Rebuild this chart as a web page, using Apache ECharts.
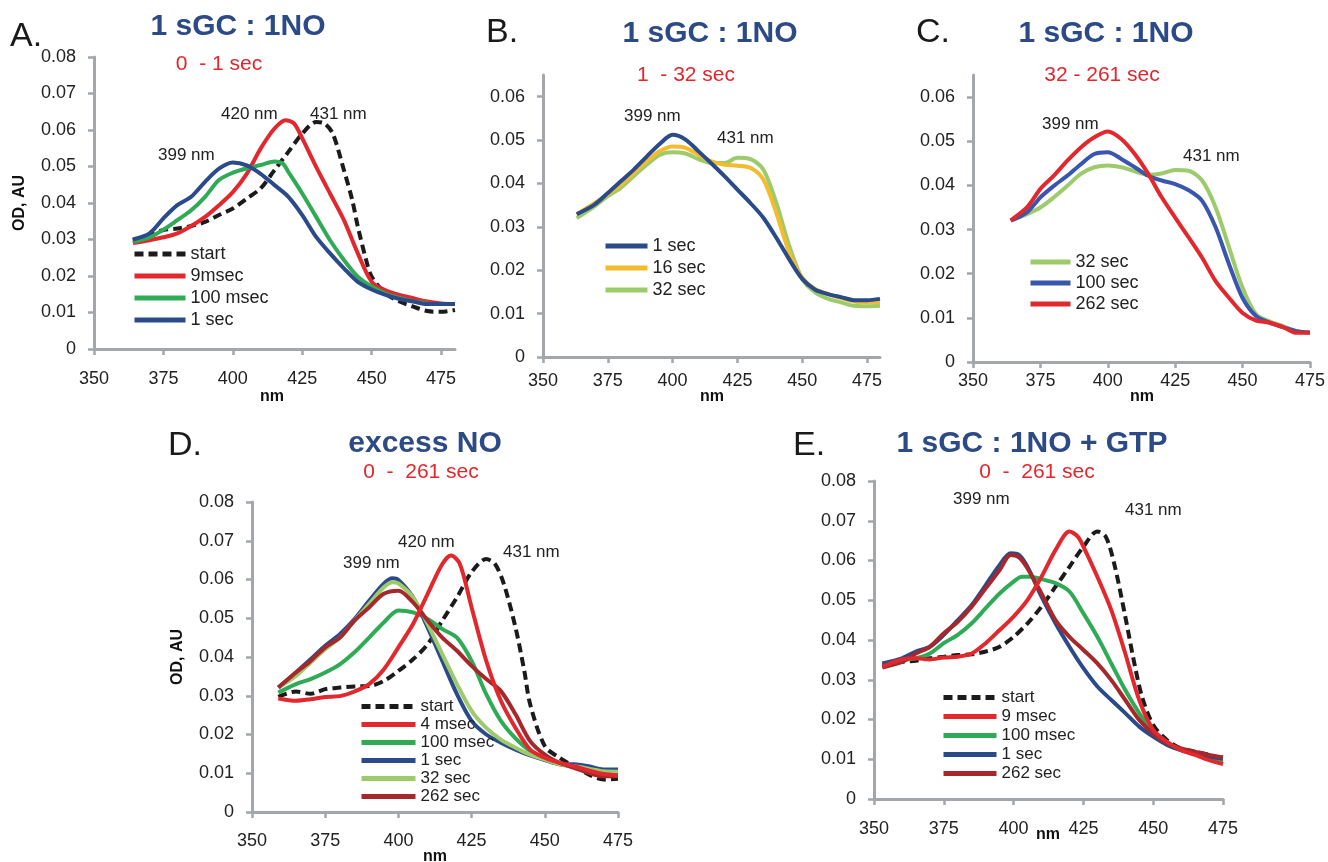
<!DOCTYPE html>
<html><head><meta charset="utf-8">
<script src="https://cdn.jsdelivr.net/npm/echarts@6/dist/echarts.min.js"></script>
<style>html,body{margin:0;padding:0;background:#fff}#c{width:1328px;height:862px}</style>
</head><body><div id="c"></div>
<script>
// ---------- tick labels ----------
const xTicks = [350, 375, 400, 425, 450, 475];
const yTicks8 = [0, 0.01, 0.02, 0.03, 0.04, 0.05, 0.06, 0.07, 0.08];
const yTicks6 = [0, 0.01, 0.02, 0.03, 0.04, 0.05, 0.06];

// ---------- Panel A : 1 sGC : 1NO, 0 - 1 sec ----------
const A_start_nm = [364,370,375,380,385,390,395,400,405,410,415,420,425,430,433,436,440,443,445,448,450,455,460,465,470,475,480];
const A_start_od = [0.0298,0.0312,0.0326,0.033,0.0337,0.0348,0.0367,0.0385,0.0412,0.044,0.049,0.054,0.059,0.0622,0.0618,0.059,0.049,0.0408,0.0335,0.0244,0.0198,0.0152,0.013,0.0116,0.0104,0.0102,0.0107];
const A_9ms_nm = [364,370,375,380,385,390,395,400,405,410,415,419,422,425,430,435,440,445,450,455,460,465,470,475,480];
const A_9ms_od = [0.029,0.0298,0.0306,0.0317,0.0337,0.0362,0.0394,0.043,0.048,0.0549,0.0604,0.0627,0.0618,0.0577,0.0499,0.0426,0.0353,0.0262,0.0184,0.0161,0.0148,0.0139,0.013,0.0125,0.0123];
const A_100ms_nm = [364,370,375,380,385,390,395,400,405,410,415,418,420,425,430,435,440,445,450,455,460,465,470,475,480];
const A_100ms_od = [0.0294,0.0306,0.0327,0.0353,0.038,0.0417,0.0463,0.0483,0.0495,0.0504,0.0514,0.0508,0.0485,0.0426,0.0362,0.0298,0.0244,0.0198,0.0171,0.0152,0.014,0.0131,0.0125,0.0123,0.0123];
const A_1s_nm = [364,370,375,380,385,390,395,400,405,410,415,420,425,430,435,440,445,450,455,460,465,470,475,480];
const A_1s_od = [0.030,0.0317,0.0358,0.0394,0.0417,0.0458,0.0494,0.0511,0.0503,0.048,0.0449,0.0417,0.0367,0.0307,0.0262,0.0221,0.0184,0.0163,0.0148,0.0137,0.013,0.0123,0.0123,0.0123];

// ---------- Panel B : 1 - 32 sec ----------
const B_nm = [363,370,375,380,385,390,395,400,405,410,415,420,425,430,435,440,445,450,455,460,465,470,475,480];
const B_1s_od  = [0.0329,0.0352,0.0378,0.0405,0.0432,0.0462,0.0491,0.0512,0.0501,0.0474,0.0446,0.0417,0.0386,0.0355,0.0321,0.0275,0.0225,0.018,0.0155,0.0145,0.0138,0.0131,0.0131,0.0134];
const B_16s_od = [0.0329,0.0355,0.0375,0.0397,0.0424,0.0451,0.0474,0.0485,0.0482,0.0466,0.0451,0.0443,0.0441,0.0436,0.0409,0.0332,0.0241,0.0183,0.0157,0.0145,0.0136,0.0128,0.0126,0.0126];
const B_32s_od = [0.032,0.0348,0.0371,0.039,0.0417,0.0443,0.0466,0.0472,0.0469,0.0456,0.0447,0.0447,0.0459,0.0456,0.0432,0.0355,0.0256,0.018,0.0149,0.0134,0.0126,0.0118,0.0117,0.0118];

// ---------- Panel C : 32 - 261 sec ----------
const C_nm = [364,370,375,380,385,390,395,400,405,410,415,420,425,430,435,440,445,450,455,460,465,470,475];
const C_32s_od  = [0.0321,0.0335,0.035,0.0373,0.0399,0.0426,0.0441,0.0445,0.0441,0.0432,0.0424,0.0427,0.0435,0.0433,0.0411,0.035,0.0259,0.0168,0.0108,0.0092,0.0081,0.007,0.0066];
const C_100s_od = [0.032,0.0339,0.0373,0.0399,0.0422,0.0448,0.0471,0.0475,0.046,0.0441,0.0422,0.0411,0.0403,0.0389,0.0365,0.0305,0.0221,0.0145,0.0104,0.0089,0.0079,0.007,0.0067];
const C_262s_od = [0.0321,0.035,0.0392,0.0422,0.0456,0.0486,0.0509,0.0522,0.0505,0.0471,0.0426,0.0373,0.0327,0.0282,0.0236,0.0183,0.0145,0.0111,0.0094,0.0089,0.0079,0.0066,0.0066];

// ---------- Panel D : excess NO, 0 - 261 sec ----------
const D_start_nm = [359,365,370,375,380,385,390,395,400,405,410,415,420,425,430,433,436,440,443,445,450,455,460,465,470,475];
const D_start_od = [0.0297,0.0311,0.0305,0.0317,0.0321,0.0324,0.0325,0.0338,0.0364,0.0394,0.0433,0.0494,0.0554,0.0619,0.0653,0.064,0.0589,0.0476,0.0364,0.0278,0.017,0.014,0.0118,0.0097,0.0084,0.0086];
const D_4ms_nm = [359,365,370,375,380,385,390,395,400,405,410,415,418,421,425,430,435,440,445,450,455,460,465,470,475];
const D_4ms_od = [0.0293,0.0287,0.0291,0.0297,0.0299,0.0311,0.033,0.0368,0.0425,0.0485,0.0563,0.064,0.0662,0.064,0.0528,0.039,0.0287,0.0217,0.0161,0.014,0.0127,0.0118,0.0107,0.0098,0.0095];
const D_nm = [359,365,370,375,380,385,390,395,400,405,410,415,420,425,430,435,440,445,450,455,460,465,470,475];
const D_100ms_od = [0.0308,0.033,0.0343,0.036,0.0381,0.0412,0.045,0.0489,0.052,0.0515,0.0498,0.0472,0.045,0.039,0.0304,0.0235,0.019,0.0157,0.0135,0.0123,0.0118,0.0114,0.0105,0.0104];
const D_peak_nm = [359,365,370,375,380,385,390,395,398,400,405,410,415,420,425,430,435,440,445,450,455,460,465,470,475];
const D_1s_od  = [0.0321,0.036,0.0394,0.0429,0.0459,0.0498,0.0545,0.0589,0.0603,0.0599,0.0554,0.0476,0.039,0.0304,0.0235,0.02,0.0179,0.0161,0.0146,0.0134,0.0124,0.0123,0.0118,0.011,0.011];
const D_32s_od = [0.0321,0.0351,0.0386,0.042,0.045,0.0494,0.0537,0.058,0.0593,0.059,0.0554,0.0485,0.0407,0.033,0.0261,0.0217,0.0187,0.0166,0.0148,0.0135,0.0123,0.0118,0.0112,0.0105,0.0104];
const D_262s_od = [0.0321,0.036,0.039,0.0425,0.045,0.0494,0.0528,0.0563,0.0571,0.0541,0.0494,0.045,0.0416,0.0377,0.0343,0.0312,0.0252,0.0183,0.0148,0.0127,0.0114,0.0101,0.0092,0.0092];

// ---------- Panel E : 1 sGC : 1NO + GTP, 0 - 261 sec ----------
const E_start_nm = [353,360,365,370,375,380,385,390,395,400,405,410,415,420,425,430,433,436,440,443,446,450,455,460,465,470,475];
const E_start_od = [0.0333,0.0345,0.0348,0.0354,0.0358,0.0362,0.0364,0.0371,0.0383,0.0408,0.0442,0.0484,0.0534,0.0584,0.0635,0.0673,0.066,0.0593,0.0459,0.035,0.0257,0.0186,0.0148,0.0127,0.0119,0.0111,0.0102];
const E_9ms_nm = [353,360,365,370,375,380,385,390,395,400,405,410,415,420,423,425,430,435,440,445,450,455,460,465,470,475];
const E_9ms_od = [0.0333,0.0351,0.0354,0.0351,0.0356,0.0358,0.0366,0.0392,0.0425,0.0459,0.0501,0.0559,0.0626,0.0673,0.066,0.0635,0.0559,0.0475,0.0366,0.0249,0.0174,0.0144,0.0123,0.0111,0.0098,0.0088];
const E_100ms_nm = [353,360,365,370,375,380,385,390,395,400,403,406,410,415,420,425,430,435,440,445,450,455,460,465,470,475];
const E_100ms_od = [0.0337,0.035,0.0354,0.0366,0.0392,0.0413,0.0442,0.048,0.0517,0.0547,0.0559,0.0559,0.0553,0.0543,0.0522,0.0467,0.0408,0.0341,0.0274,0.0216,0.0169,0.0136,0.0123,0.0115,0.0102,0.0094];
const E_peak_nm = [353,360,365,370,375,380,385,390,395,399,402,405,410,415,420,425,430,435,440,445,450,455,460,465,470,475];
const E_1s_od   = [0.0341,0.0354,0.0371,0.0383,0.0413,0.045,0.0488,0.0538,0.0589,0.0618,0.0614,0.0584,0.0509,0.0442,0.0383,0.0329,0.0283,0.0249,0.0216,0.0182,0.0157,0.0136,0.0123,0.0115,0.0106,0.0102];
const E_262s_od = [0.0331,0.0345,0.0366,0.0383,0.0417,0.0446,0.0484,0.053,0.0576,0.0614,0.0608,0.058,0.0517,0.045,0.0408,0.0375,0.0341,0.0299,0.0249,0.0199,0.0165,0.014,0.0127,0.0119,0.0111,0.0105];

// ---------- build ----------
const zip = (xs, ys) => xs.map((x, i) => [x, ys[i]]);
const FONT = 'Liberation Sans, Arial, sans-serif';
const AX = '#A3A7AB';
const col = {
  black: '#1B1B1B', red: '#E2272D', green: '#2FAA55', navy: '#2B4A8A',
  yellow: '#F2BC2E', lgreen: '#9DCB6B', blue: '#3A55AE', dred: '#A6282D'
};

const grids = [
  {left: 94, top: 57, width: 361, height: 292},   // A
  {left: 543, top: 75, width: 337, height: 282},  // B
  {left: 973, top: 75, width: 337, height: 287},  // C
  {left: 252, top: 502, width: 366, height: 310}, // D
  {left: 874, top: 481, width: 349, height: 318}  // E
];
const xMax = [480, 480, 475, 475, 475];
const yMax = [0.08, 0.065, 0.065, 0.08, 0.08];
const yT = [yTicks8, yTicks6, yTicks6, yTicks8, yTicks8];
const xMargin = [21, 15, 10, 20, 21];

const xAxes = grids.map((g, i) => ({
  gridIndex: i, type: 'value', min: 350, max: xMax[i], interval: 25,
  axisLine: {show: true, lineStyle: {color: AX, width: 3}},
  axisTick: {show: true, length: 6, lineStyle: {color: AX, width: 2.5}, customValues: xTicks},
  axisLabel: {customValues: xTicks, fontSize: 18, color: '#222', fontFamily: FONT, margin: xMargin[i],
    formatter: v => (v % 25 === 0 ? String(v) : '')},
  splitLine: {show: false}
}));
const yAxes = grids.map((g, i) => ({
  gridIndex: i, type: 'value', min: 0, max: yMax[i], interval: 0.01,
  axisLine: {show: true, lineStyle: {color: AX, width: 3}},
  axisTick: {show: true, length: 6, lineStyle: {color: AX, width: 2.5}, customValues: yT[i]},
  axisLabel: {customValues: yT[i], fontSize: 18, color: '#222', fontFamily: FONT, margin: 18,
    formatter: v => { const k = Math.round(v * 100); if (Math.abs(v * 100 - k) > 1e-6) return ''; return k === 0 ? '0' : v.toFixed(2); }},
  splitLine: {show: false}
}));

function line(panel, label, xs, ys, color, dashed) {
  return {
    name: panel + '|' + label, type: 'line', xAxisIndex: 'ABCDE'.indexOf(panel), yAxisIndex: 'ABCDE'.indexOf(panel),
    data: zip(xs, ys), smooth: 0.3, symbol: 'none', animation: false,
    lineStyle: {color: color, width: 4, type: dashed ? [9, 5] : 'solid'},
    itemStyle: {color: color}
  };
}

const series = [
  line('A', 'start', A_start_nm, A_start_od, col.black, true),
  line('A', '9msec', A_9ms_nm, A_9ms_od, col.red),
  line('A', '100 msec', A_100ms_nm, A_100ms_od, col.green),
  line('A', '1 sec', A_1s_nm, A_1s_od, col.navy),

  line('B', '32 sec', B_nm, B_32s_od, col.lgreen),
  line('B', '16 sec', B_nm, B_16s_od, col.yellow),
  line('B', '1 sec', B_nm, B_1s_od, col.navy),

  line('C', '32 sec', C_nm, C_32s_od, col.lgreen),
  line('C', '100 sec', C_nm, C_100s_od, col.blue),
  line('C', '262 sec', C_nm, C_262s_od, col.red),

  line('D', 'start', D_start_nm, D_start_od, col.black, true),
  line('D', '100 msec', D_nm, D_100ms_od, col.green),
  line('D', '1 sec', D_peak_nm, D_1s_od, col.navy),
  line('D', '32 sec', D_peak_nm, D_32s_od, col.lgreen),
  line('D', '262 sec', D_nm, D_262s_od, col.dred),
  line('D', '4 msec', D_4ms_nm, D_4ms_od, col.red),

  line('E', 'start', E_start_nm, E_start_od, col.black, true),
  line('E', '100 msec', E_100ms_nm, E_100ms_od, col.green),
  line('E', '1 sec', E_peak_nm, E_1s_od, col.navy),
  line('E', '262 sec', E_peak_nm, E_262s_od, col.dred),
  line('E', '9 msec', E_9ms_nm, E_9ms_od, col.red)
];

function legend(left, top, names, w, gap, fs) {
  return {
    orient: 'vertical', left: left, top: top, padding: 0, itemWidth: w, itemHeight: 14, itemGap: gap,
    selectedMode: false, data: names,
    lineStyle: {width: 5},
    itemStyle: {color: 'transparent', borderWidth: 0, opacity: 0},
    textStyle: {fontSize: fs, color: '#222', fontFamily: FONT, padding: [0, 0, 0, 0]},
    formatter: n => n.split('|')[1]
  };
}
const legends = [
  legend(132, 245, ['A|start', 'A|9msec', 'A|100 msec', 'A|1 sec'], 51, 4, 18),
  legend(603, 237, ['B|1 sec', 'B|16 sec', 'B|32 sec'], 42, 4, 18),
  legend(1028, 253, ['C|32 sec', 'C|100 sec', 'C|262 sec'], 40, 3, 18),
  legend(359, 698, ['D|start', 'D|4 msec', 'D|100 msec', 'D|1 sec', 'D|32 sec', 'D|262 sec'], 54, 1, 17),
  legend(941, 689, ['E|start', 'E|9 msec', 'E|100 msec', 'E|1 sec', 'E|262 sec'], 53, 2, 17)
];

function txt(x, y, s, opt) {
  opt = opt || {};
  return {
    type: 'text', x: x, y: y, rotation: opt.rot || 0, silent: true,
    style: {
      text: s, fill: opt.fill || '#222', fontSize: opt.fs || 17, fontWeight: opt.fw || 'normal',
      fontFamily: FONT, align: opt.align || 'left', verticalAlign: 'middle'
    }
  };
}
const TB = '#2C4A86', TR = '#E2262C';
const graphics = [
  // panel letters
  txt(10, 37, 'A.', {fs: 34, fill: '#1a1a1a'}),
  txt(486, 33, 'B.', {fs: 34, fill: '#1a1a1a'}),
  txt(916, 33, 'C.', {fs: 34, fill: '#1a1a1a'}),
  txt(168, 446, 'D.', {fs: 34, fill: '#1a1a1a'}),
  txt(793, 446, 'E.', {fs: 34, fill: '#1a1a1a'}),
  // titles
  txt(238, 27, '1 sGC : 1NO', {fs: 30, fw: 'bold', fill: TB, align: 'center'}),
  txt(219, 64, '0  - 1 sec', {fs: 21, fill: TR, align: 'center'}),
  txt(710, 34, '1 sGC : 1NO', {fs: 30, fw: 'bold', fill: TB, align: 'center'}),
  txt(686, 75, '1  - 32 sec', {fs: 21, fill: TR, align: 'center'}),
  txt(1106, 34, '1 sGC : 1NO', {fs: 30, fw: 'bold', fill: TB, align: 'center'}),
  txt(1102, 75, '32 - 261 sec', {fs: 21, fill: TR, align: 'center'}),
  txt(425, 444, 'excess NO', {fs: 30, fw: 'bold', fill: TB, align: 'center'}),
  txt(421, 472, '0  -  261 sec', {fs: 21, fill: TR, align: 'center'}),
  txt(1032, 444, '1 sGC : 1NO + GTP', {fs: 30, fw: 'bold', fill: TB, align: 'center'}),
  txt(1037, 472, '0  -  261 sec', {fs: 21, fill: TR, align: 'center'}),
  // axis names
  txt(20, 203, 'OD, AU', {fs: 16, fw: 'bold', fill: '#111', align: 'center', rot: Math.PI / 2}),
  txt(178, 657, 'OD, AU', {fs: 16, fw: 'bold', fill: '#111', align: 'center', rot: Math.PI / 2}),
  txt(272, 397, 'nm', {fs: 16, fw: 'bold', fill: '#111', align: 'center'}),
  txt(712, 397, 'nm', {fs: 16, fw: 'bold', fill: '#111', align: 'center'}),
  txt(1142, 397, 'nm', {fs: 16, fw: 'bold', fill: '#111', align: 'center'}),
  txt(435, 857, 'nm', {fs: 16, fw: 'bold', fill: '#111', align: 'center'}),
  txt(1048, 835, 'nm', {fs: 16, fw: 'bold', fill: '#111', align: 'center'}),
  // peak annotations
  txt(158, 155, '399 nm'), txt(221, 114, '420 nm'), txt(310, 114, '431 nm'),
  txt(624, 116, '399 nm'), txt(717, 138, '431 nm'),
  txt(1042, 124, '399 nm'), txt(1183, 156, '431 nm'),
  txt(343, 563, '399 nm'), txt(398, 542, '420 nm'), txt(503, 552, '431 nm'),
  txt(953, 499, '399 nm'), txt(1125, 510, '431 nm')
];

const chart = echarts.init(document.getElementById('c'), null, {renderer: 'canvas'});
chart.setOption({
  animation: false,
  backgroundColor: '#fff',
  grid: grids.map(g => Object.assign({containLabel: false}, g)),
  xAxis: xAxes, yAxis: yAxes,
  legend: legends,
  series: series,
  graphic: graphics
});
</script></body></html>
